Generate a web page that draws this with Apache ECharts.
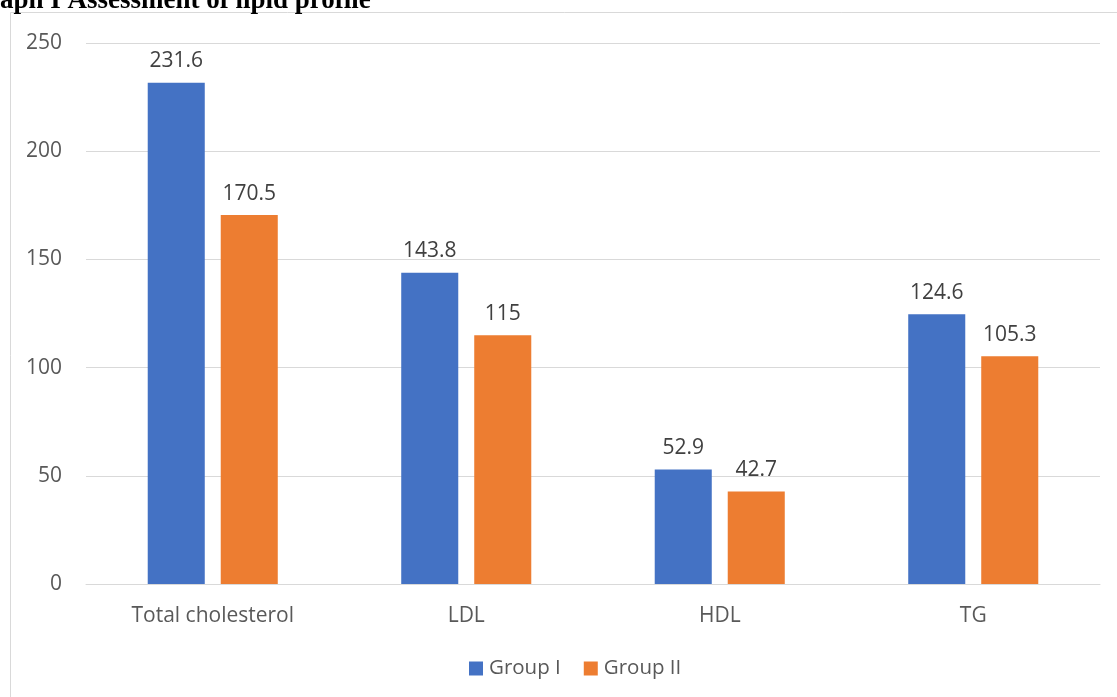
<!DOCTYPE html>
<html>
<head>
<meta charset="utf-8">
<style>
  html, body { margin: 0; padding: 0; background: #fff; }
  #main { width: 1117px; height: 697px; }
</style>
</head>
<body>
<div id="main"></div>
<script src="https://cdn.jsdelivr.net/npm/echarts@6/dist/echarts.min.js"></script>
<script>
    // data
    var categories = ['Total cholesterol', 'LDL', 'HDL', 'TG'];
    var groupOne = [231.6, 143.8, 52.9, 124.6];
    var groupTwo = [170.5, 115, 42.7, 105.3];
    var yTicks = [0, 50, 100, 150, 200, 250];

    var myChart = echarts.init(document.getElementById('main'));

    var labelStyle = {
        show: true,
        position: 'top',
        distance: 11,
        color: '#404040',
        fontSize: 21,
        fontFamily: 'Open Sans'
    };

    var option = {
        animation: false,
        textStyle: { fontFamily: 'Open Sans' },
        graphic: [
            // outer frame of the chart
            {
                type: 'rect',
                shape: { x: 10.5, y: 12.5, width: 1200, height: 800 },
                style: { fill: 'none', stroke: '#d9d9d9', lineWidth: 1 },
                silent: true
            },
            // heading, clipped at top of picture
            {
                type: 'text',
                left: 0,
                top: -12,
                style: {
                    text: 'aph I Assessment of lipid profile',
                    font: 'bold 27px "Liberation Serif"',
                    fill: '#000'
                }
            }
        ],
        legend: {
            data: ['Group I', 'Group II'],
            bottom: 13,
            left: 464,
            itemWidth: 14,
            itemHeight: 14,
            itemGap: 23,
            icon: 'rect',
            textStyle: { color: '#595959', fontSize: 20.5, padding: [0, 0, 0, 1] }
        },
        grid: {
            left: 86,
            right: 17,
            top: 43,
            bottom: 113,
            containLabel: false
        },
        xAxis: {
            type: 'category',
            data: categories,
            axisLine: { lineStyle: { color: '#d9d9d9' } },
            axisTick: { show: false },
            axisLabel: { color: '#595959', fontSize: 21, margin: 22 }
        },
        yAxis: {
            type: 'value',
            min: yTicks[0],
            max: yTicks[yTicks.length - 1],
            interval: 50,
            axisLine: { show: false },
            axisTick: { show: false },
            splitLine: { lineStyle: { color: '#d9d9d9' } },
            axisLabel: { color: '#595959', fontSize: 21, margin: 24 }
        },
        series: [
            {
                name: 'Group I',
                type: 'bar',
                data: groupOne,
                barWidth: '22.5%',
                barGap: '28%',
                itemStyle: { color: '#4472c4' },
                label: labelStyle
            },
            {
                name: 'Group II',
                type: 'bar',
                data: groupTwo,
                barWidth: '22.5%',
                itemStyle: { color: '#ed7d31' },
                label: labelStyle
            }
        ]
    };

    myChart.setOption(option);
</script>
</body>
</html>
